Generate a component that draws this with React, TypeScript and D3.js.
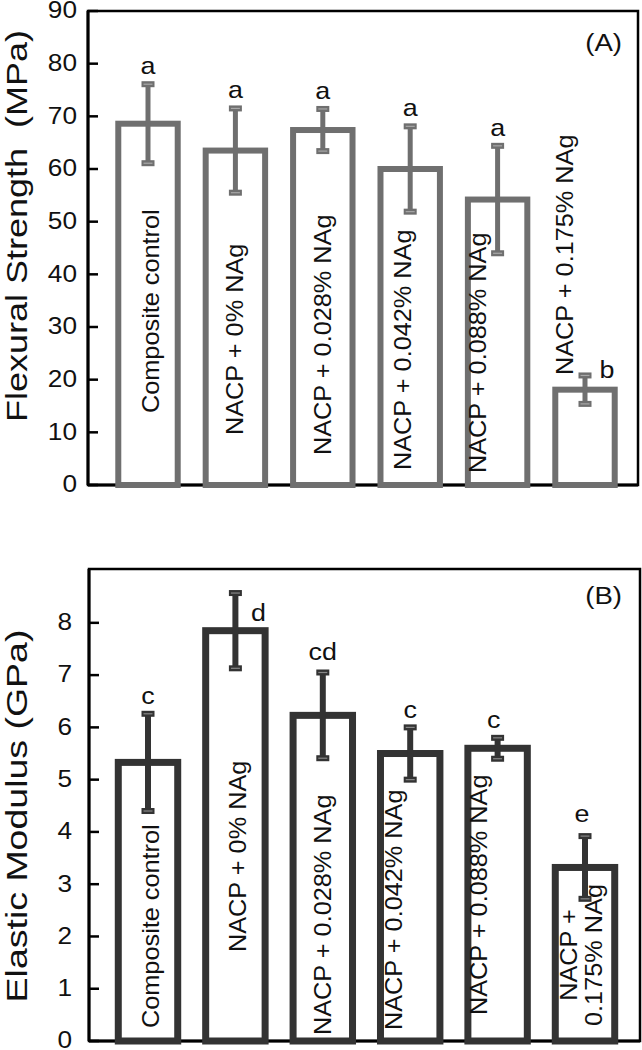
import React from "react";
import * as d3 from "d3";

const categories = [
  "Composite control",
  "NACP + 0% NAg",
  "NACP + 0.028% NAg",
  "NACP + 0.042% NAg",
  "NACP + 0.088% NAg",
  "NACP + 0.175% NAg",
];
const flexMean = [68.6, 63.5, 67.4, 60.0, 54.2, 18.1];
const flexSD = [7.5, 8.0, 4.0, 8.1, 10.2, 2.7];
const flexGroups = ["a", "a", "a", "a", "a", "b"];
const flexTicks = [0, 10, 20, 30, 40, 50, 60, 70, 80, 90];

const modMean = [5.33, 7.85, 6.23, 5.5, 5.6, 3.32];
const modSD = [0.93, 0.72, 0.82, 0.5, 0.2, 0.6];
const modGroups = ["c", "d", "cd", "c", "c", "e"];
const modTicks = [0, 1, 2, 3, 4, 5, 6, 7, 8];

const FONT = "'Liberation Sans', Arial, Helvetica, sans-serif";

function SText(props: any) {
  const { x, y, rotate = 0, sx = 1, anchor = "start", size = 22, fill = "#111", children, dy } = props;
  return (
    <g transform={`translate(${x},${y}) rotate(${rotate}) scale(${sx},1)`}>
      <text
        textAnchor={anchor}
        fontSize={size}
        fontFamily={FONT}
        fill={fill}
        dy={dy}
        xmlSpace="preserve"
      >
        {children}
      </text>
    </g>
  );
}

function Cap(props: any) {
  const { cx, cy, color, light } = props;
  return (
    <g>
      <rect x={cx - 6.5} y={cy - 3} width={13} height={6} fill={color} />
      <line x1={cx - 4.5} x2={cx + 4.5} y1={cy} y2={cy} stroke={light} strokeWidth={1.2} />
    </g>
  );
}

function Panel(props: any) {
  const {
    top, bottom, left, right, domainMax, ticks, means, sds, groups, color, light, stroke,
    errW, title, titleY, titleSx, panelLabel, labelLayout, groupLayout, tickRight, multiLast,
  } = props;
  const x = d3
    .scaleBand<string>()
    .domain(categories)
    .range([104.3, 628.7])
    .paddingInner(0.32)
    .paddingOuter(0.16);
  const y = d3.scaleLinear().domain([0, domainMax]).range([bottom, top]);
  const bw = x.bandwidth();
  return (
    <g>
      <rect x={left} y={top} width={right - left} height={bottom - top} fill="none" stroke="#000" strokeWidth={2.5} />
      <line x1={left} x2={left} y1={top} y2={bottom} stroke="#000" strokeWidth={3} />
      <line x1={left} x2={right} y1={bottom} y2={bottom} stroke="#000" strokeWidth={3} />
      {ticks.map((t: number) => (
        <g key={t}>
          <line x1={left} x2={left + 10} y1={y(t)} y2={y(t)} stroke="#000" strokeWidth={2.5} />
          <SText x={tickRight} y={y(t)} anchor="end" size={23} sx={1.14} dy="0.32em">
            {String(t)}
          </SText>
        </g>
      ))}
      <SText x={27} y={titleY} rotate={-90} anchor="middle" size={30} sx={titleSx}>
        {title}
      </SText>
      <SText x={622} y={panelLabel.y} anchor="end" size={24} sx={1.15}>
        {panelLabel.text}
      </SText>
      {categories.map((c, i) => {
        const cx = (x(c) as number) + bw / 2;
        const v = means[i];
        const hi = v + sds[i];
        const lo = v - sds[i];
        const L = labelLayout[i];
        const G = groupLayout[i];
        return (
          <g key={c}>
            <rect
              x={x(c)}
              y={y(v)}
              width={bw}
              height={bottom - y(v)}
              fill="#fff"
              stroke={color}
              strokeWidth={stroke}
            />
            {multiLast && i === categories.length - 1 ? (
              <g>
                <SText x={cx + L.dx} y={L.y} rotate={-90} anchor="middle" size={23} sx={1.1}>
                  {"NACP +"}
                </SText>
                <SText x={cx + L.dx2} y={L.y} rotate={-90} anchor="middle" size={23} sx={1.1}>
                  {"0.175% NAg"}
                </SText>
              </g>
            ) : (
              <SText x={cx + L.dx} y={L.y} rotate={-90} anchor="start" size={23} sx={1.1}>
                {c}
              </SText>
            )}
            <line x1={cx} x2={cx} y1={y(hi)} y2={y(lo)} stroke={color} strokeWidth={errW} />
            <Cap cx={cx} cy={y(hi)} color={color} light={light} />
            <Cap cx={cx} cy={y(lo)} color={color} light={light} />
            <SText x={cx + G.dx} y={y(hi) + G.dy} anchor="middle" size={24} sx={1.12}>
              {groups[i]}
            </SText>
          </g>
        );
      })}
    </g>
  );
}

export default function App() {
  const labelA = [
    { dx: 10.5, y: 413 },
    { dx: 8, y: 435 },
    { dx: 8, y: 455 },
    { dx: 1, y: 470 },
    { dx: -12, y: 473 },
    { dx: -12, y: 375 },
  ];
  const groupA = [
    { dx: 0, dy: -10 },
    { dx: 0, dy: -10 },
    { dx: 0, dy: -10 },
    { dx: 0, dy: -10 },
    { dx: 0, dy: -10 },
    { dx: 22, dy: 3 },
  ];
  const labelB = [
    { dx: 10.5, y: 1028 },
    { dx: 11, y: 952 },
    { dx: 8, y: 1035 },
    { dx: -8, y: 1030 },
    { dx: -11, y: 1015 },
    { dx: -8, dx2: 17, y: 955 },
  ];
  const groupB = [
    { dx: 0, dy: -10 },
    { dx: 23, dy: 28 },
    { dx: 0, dy: -12 },
    { dx: 0, dy: -9 },
    { dx: -4, dy: -10 },
    { dx: -3, dy: -14 },
  ];
  return (
    <svg
      width={642}
      height={1050}
      style={{ position: "absolute", left: 0, top: 0, background: "#fff" }}
    >
      <rect x={0} y={0} width={642} height={1050} fill="#fff" />
      <Panel
        top={11}
        bottom={485}
        left={88}
        right={638}
        domainMax={90}
        ticks={flexTicks}
        means={flexMean}
        sds={flexSD}
        groups={flexGroups}
        color="#6f6f6f"
        light="#a8a8a8"
        stroke={6}
        errW={5}
        title="Flexural Strength  (MPa)"
        titleY={226}
        titleSx={1.2}
        panelLabel={{ text: "(A)", y: 51 }}
        labelLayout={labelA}
        groupLayout={groupA}
        tickRight={77}
        multiLast={false}
      />
      <Panel
        top={569}
        bottom={1041}
        left={89}
        right={640}
        domainMax={9.03}
        ticks={modTicks}
        means={modMean}
        sds={modSD}
        groups={modGroups}
        color="#333333"
        light="#888888"
        stroke={7}
        errW={6}
        title="Elastic Modulus (GPa)"
        titleY={816}
        titleSx={1.25}
        panelLabel={{ text: "(B)", y: 604 }}
        labelLayout={labelB}
        groupLayout={groupB}
        tickRight={72}
        multiLast={true}
      />
    </svg>
  );
}
